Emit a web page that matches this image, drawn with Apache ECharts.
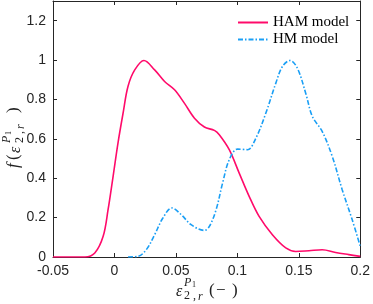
<!DOCTYPE html>
<html><head><meta charset="utf-8">
<script src="https://cdn.jsdelivr.net/npm/echarts@6/dist/echarts.min.js"></script>
<style>html,body{margin:0;padding:0;background:#fff}#c{width:373px;height:304px}</style>
</head><body><div id="c"></div>
<script>
const seriesNames = ['HAM model', 'HM model'];
const xTicks = [-0.05, 0, 0.05, 0.1, 0.15, 0.2];
const yTicks = [0, 0.2, 0.4, 0.6, 0.8, 1, 1.2];
const hamX = [-0.05, -0.024, -0.016, -0.0092, -0.0052, -0.0011, 0.0029, 0.007, 0.011, 0.0165, 0.024, 0.0327, 0.0408, 0.0489, 0.057, 0.0651, 0.0732, 0.0813, 0.0853, 0.0934, 0.1015, 0.1096, 0.1177, 0.1285, 0.1394, 0.1475, 0.1583, 0.169, 0.1799, 0.1907, 0.2];
const hamY = [0, 0, 0.02, 0.105, 0.24, 0.41, 0.58, 0.73, 0.866, 0.95, 0.998, 0.95, 0.891, 0.849, 0.78, 0.705, 0.66, 0.643, 0.621, 0.545, 0.426, 0.308, 0.206, 0.113, 0.046, 0.028, 0.032, 0.037, 0.023, 0.012, 0.003];
const hmX = [0.011, 0.0191, 0.0259, 0.0327, 0.0394, 0.0467, 0.0543, 0.0624, 0.0732, 0.0772, 0.0827, 0.088, 0.0934, 0.1002, 0.1083, 0.1151, 0.1232, 0.1313, 0.1367, 0.1429, 0.1488, 0.1556, 0.161, 0.169, 0.1772, 0.1853, 0.1934, 0.2];
const hmY = [0, 0.003, 0.037, 0.113, 0.198, 0.249, 0.215, 0.164, 0.135, 0.155, 0.24, 0.376, 0.494, 0.548, 0.545, 0.604, 0.731, 0.883, 0.968, 0.998, 0.959, 0.832, 0.714, 0.638, 0.511, 0.342, 0.19, 0.054];

const zip = (xs, ys) => xs.map((x, i) => [x, ys[i]]);
const axisCol = '#262626';
const fmt = v => String(Math.round(v * 100) / 100);
const tickFont = { fontFamily: 'Liberation Sans', fontSize: 14, color: axisCol };
const serif = 'Liberation Serif';

const chart = echarts.init(document.getElementById('c'), null, { renderer: 'canvas' });
const gridPos = { left: 53, right: 10, top: 1, bottom: 47 };
const baseX = { type: 'value', min: -0.05, max: 0.2, interval: 0.05, gridIndex: 0,
  axisLine: { show: true, onZero: false, lineStyle: { color: axisCol, width: 1 } },
  axisTick: { show: true, inside: true, length: 4, lineStyle: { color: axisCol } },
  splitLine: { show: false } };
const baseY = { type: 'value', min: 0, max: 1.3, interval: 0.2, gridIndex: 0,
  axisLine: { show: true, onZero: false, lineStyle: { color: axisCol, width: 1 } },
  axisTick: { show: true, inside: true, length: 4, lineStyle: { color: axisCol } },
  splitLine: { show: false } };

const t = (text, x, y, font) => ({ type: 'text', x, y, style: { text, font, fill: '#222', textVerticalAlign: 'middle' } });

chart.setOption({
  animation: false,
  grid: gridPos,
  legend: {
    data: seriesNames, orient: 'vertical', left: 237, top: 15, padding: 0,
    itemWidth: 30, itemHeight: 12, itemGap: 2,
    itemStyle: { opacity: 0 },
    textStyle: { fontFamily: serif, fontSize: 15, lineHeight: 14, color: '#000', padding: [0, 0, 0, 0] }
  },
  xAxis: [
    Object.assign({}, baseX, { position: 'bottom',
      axisLabel: Object.assign({ margin: 7, formatter: fmt, showMaxLabel: true, showMinLabel: true }, tickFont) }),
    Object.assign({}, baseX, { position: 'top', axisLabel: { show: false } })
  ],
  yAxis: [
    Object.assign({}, baseY, { position: 'left',
      axisLabel: Object.assign({ margin: 7, formatter: fmt, showMaxLabel: false }, tickFont) }),
    Object.assign({}, baseY, { position: 'right', axisLabel: { show: false } })
  ],
  series: [
    { name: seriesNames[0], type: 'line', data: zip(hamX, hamY), smooth: 0.35, symbol: 'none',
      lineStyle: { color: '#ff0a6a', width: 1.6 }, itemStyle: { color: '#ff0a6a' } },
    { name: seriesNames[1], type: 'line', data: zip(hmX, hmY), smooth: 0.35, symbol: 'none',
      lineStyle: { color: '#1a9ff5', width: 1.6, type: [5, 2, 1.5, 2] }, itemStyle: { color: '#1a9ff5' } }
  ],
  graphic: [
    { type: 'group', x: 14, y: 134, rotation: Math.PI / 2, children: [
      t('f', -34, 0, 'italic 17px "Liberation Serif"'),
      t('(', -26, 0, '17px "Liberation Serif"'),
      t('ε', -19, 2, 'italic 16px "Liberation Serif"'),
      t('P', -9, -7, 'italic 12px "Liberation Serif"'),
      t('1', -1, -5, '8px "Liberation Serif"'),
      t('2 ,', -9, 6, '12px "Liberation Serif"'),
      t('r', 5, 7, 'italic 12px "Liberation Serif"'),
      t(')', 21, 0, '17px "Liberation Serif"')
    ] },
    { type: 'group', x: 176, y: 291, children: [
      t('ε', 0, 1, 'italic 16px "Liberation Serif"'),
      t('P', 8, -8, 'italic 12px "Liberation Serif"'),
      t('1', 16, -6, '8px "Liberation Serif"'),
      t('2 ,', 8, 5, '12px "Liberation Serif"'),
      t('r', 22, 6, 'italic 12px "Liberation Serif"'),
      t('(', 33, 0, '17px "Liberation Serif"'),
      t('−', 40, 0, '17px "Liberation Serif"'),
      t(')', 56, 0, '17px "Liberation Serif"')
    ] }
  ]
});
</script></body></html>
